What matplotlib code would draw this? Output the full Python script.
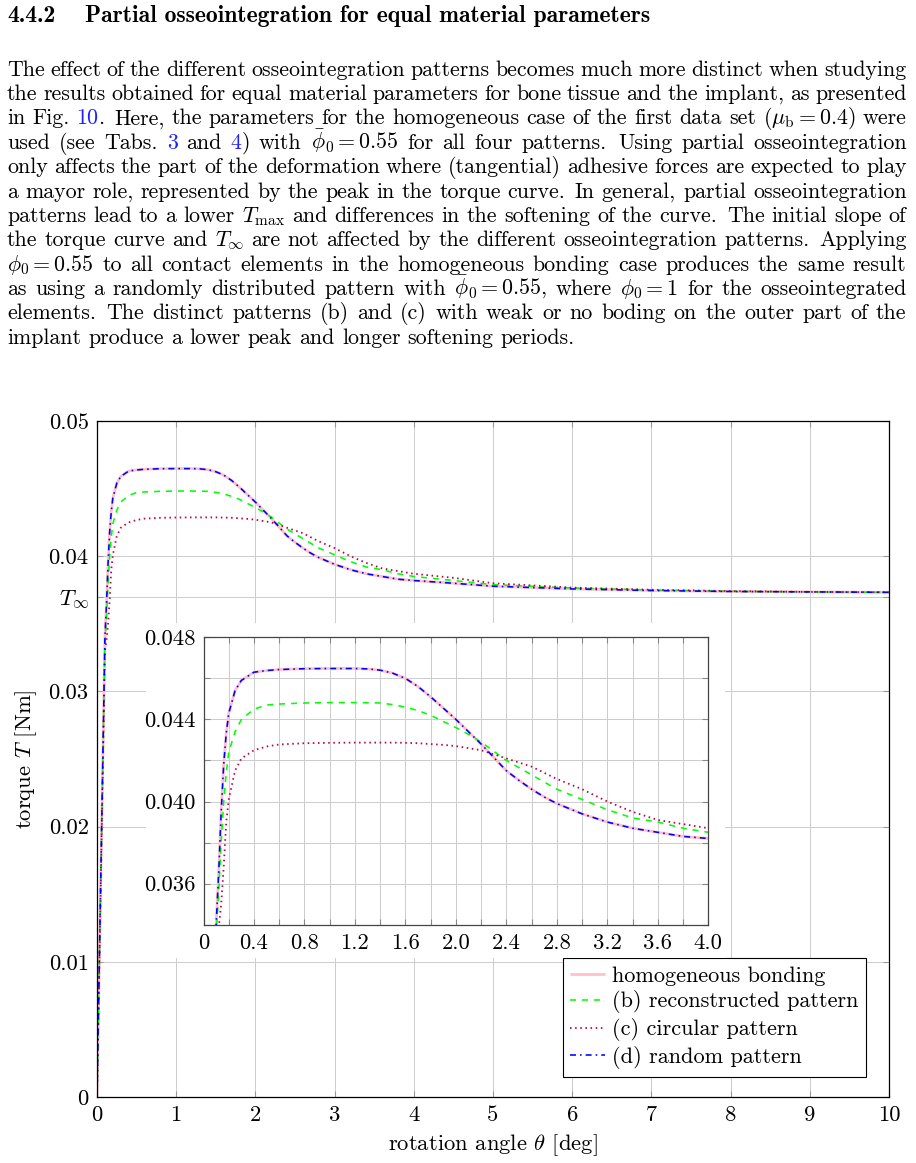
import numpy as np
import matplotlib
matplotlib.use('Agg')
import matplotlib.pyplot as plt
from matplotlib import patches as pat
from matplotlib.ticker import FixedLocator, MultipleLocator

plt.rcParams['font.family'] = 'cmr10'
plt.rcParams['mathtext.fontset'] = 'cm'
plt.rcParams['axes.formatter.use_mathtext'] = True
plt.rcParams['lines.scale_dashes'] = False

FS = 15.8     # body text
FH = 17.0     # heading (cmb10 is narrower than LaTeX's bold extended)
FC = 16.3     # chart text
W, H = 916, 1163

# --- data ---
theta = [0, 0.10, 0.12, 0.14, 0.16, 0.18, 0.20, 0.25, 0.30, 0.40, 0.50, 0.60,
         0.80, 1.00, 1.20, 1.30, 1.40, 1.50, 1.60, 1.70, 1.80, 1.90, 2.00,
         2.10, 2.20, 2.30, 2.40, 2.50, 2.60, 2.70, 2.80,
         3.00, 3.20, 3.40, 3.60, 3.80, 4.00, 4.50, 5.0, 6.0, 7.0, 8.0, 9.0, 10.0]
t_homog = [0, 0.0340, 0.0365, 0.0395, 0.0418, 0.0433, 0.0443, 0.0454, 0.0459,
           0.0463, 0.04638, 0.04643, 0.04647, 0.04648, 0.04648, 0.04646, 0.0464,
           0.04625, 0.0460, 0.0456, 0.0451, 0.04455, 0.0440,
           0.0434, 0.0428, 0.04215, 0.0415, 0.04103, 0.0406, 0.04022, 0.0399,
           0.0394, 0.0390, 0.0387, 0.0385, 0.0383, 0.0382, 0.0380, 0.03778,
           0.03758, 0.03746, 0.03739, 0.03736, 0.03733]
t_recon = [0, 0.0336, 0.0355, 0.0380, 0.0400, 0.0414, 0.0424, 0.0434, 0.0440,
           0.0445, 0.0447, 0.04475, 0.0448, 0.04482, 0.04482, 0.04481, 0.0448,
           0.04472, 0.0446, 0.04443, 0.0442, 0.0439, 0.0436,
           0.04327, 0.0429, 0.04245, 0.0420, 0.04165, 0.0413, 0.04095, 0.0406,
           0.0401, 0.0396, 0.0392, 0.0390, 0.0387, 0.0385, 0.0382, 0.0379,
           0.03765, 0.0375, 0.0374, 0.03736, 0.03733]
t_circ = [0, 0.0330, 0.0338, 0.0350, 0.0368, 0.0390, 0.0401, 0.0415, 0.0421,
          0.0425, 0.04268, 0.04278, 0.04284, 0.04286, 0.04287, 0.04287, 0.04287,
          0.04287, 0.04286, 0.04284, 0.0428, 0.04276, 0.0427,
          0.0426, 0.0425, 0.0423, 0.0421, 0.0419, 0.0417, 0.0414, 0.0411,
          0.0406, 0.0400, 0.0395, 0.0391, 0.0389, 0.0387, 0.0384, 0.0380,
          0.03768, 0.03752, 0.03742, 0.03736, 0.03733]
t_random = [0, 0.0340, 0.0365, 0.0395, 0.0418, 0.0433, 0.0443, 0.0454, 0.0459,
            0.0463, 0.04638, 0.04643, 0.04647, 0.04648, 0.04648, 0.04646, 0.0464,
            0.04625, 0.0460, 0.0456, 0.0451, 0.04455, 0.0440,
            0.0434, 0.0428, 0.04215, 0.0415, 0.04103, 0.0406, 0.04022, 0.0399,
            0.0394, 0.0390, 0.0387, 0.0385, 0.0383, 0.0382, 0.0380, 0.03778,
            0.03758, 0.03746, 0.03739, 0.03736, 0.03733]
t_inf = 0.037
labels = ['homogeneous bonding', '(b) reconstructed pattern',
          '(c) circular pattern', '(d) random pattern']

heading_num = '4.4.2'
heading = 'Partial osseointegration for equal material parameters'
body = [
    'The effect of the different osseointegration patterns becomes much more distinct when studying',
    'the results obtained for equal material parameters for bone tissue and the implant, as presented',
    r'in Fig. [10]. Here, the parameters for the homogeneous case of the first data set ($\mu_\mathrm{b} = 0.4$) were',
    r'used (see Tabs. [3] and [4]) with $\bar{\phi}_0 = 0.55$ for all four patterns. Using partial osseointegration',
    'only affects the part of the deformation where (tangential) adhesive forces are expected to play',
    'a mayor role, represented by the peak in the torque curve. In general, partial osseointegration',
    r'patterns lead to a lower $T_\mathrm{max}$ and differences in the softening of the curve. The initial slope of',
    r'the torque curve and $T_\infty$ are not affected by the different osseointegration patterns. Applying',
    r'$\phi_0 = 0.55$ to all contact elements in the homogeneous bonding case produces the same result',
    r'as using a randomly distributed pattern with $\bar{\phi}_0 = 0.55$, where $\phi_0 = 1$ for the osseointegrated',
    'elements. The distinct patterns (b) and (c) with weak or no boding on the outer part of the',
    'implant produce a lower peak and longer softening periods.',
]

PINK, GREEN, PURPLE, BLUE = '#ffbfcb', '#00ff00', '#bf0040', '#0000ff'
LINK = '#2020ff'


def fx(px):
    return px / W


def fy(py):
    return 1 - py / H


fig = plt.figure(figsize=(W / 100, H / 100), dpi=100)

# ---------------- text block ----------------
fig.text(fx(7), fy(22), heading_num, family='cmb10', fontsize=FH, va='baseline')
fig.text(fx(85), fy(22), heading, family='cmb10', fontsize=FH, va='baseline')


def split_tokens(line):
    toks, cur, inmath = [], '', False
    for ch in line:
        if ch == '$':
            inmath = not inmath
        if ch == ' ' and not inmath:
            if cur:
                toks.append(cur)
            cur = ''
        else:
            cur += ch
    if cur:
        toks.append(cur)
    return toks


def segments(tok):
    out = []
    while '[' in tok:
        i, j = tok.index('['), tok.index(']')
        if i:
            out.append((tok[:i], 'black'))
        out.append((tok[i + 1:j], LINK))
        tok = tok[j + 1:]
    if tok:
        out.append((tok, 'black'))
    return out


# justified paragraph, word by word
renderer = fig.canvas.get_renderer()
x_left, x_right = 7, 906.5
base0, lead = 75.5, 24.4
space = 0.333 * FS * 100 / 72
for k, line in enumerate(body):
    y = fy(base0 + k * lead)
    toks = split_tokens(line)
    words = []
    for tok in toks:
        parts = []
        for s, c in segments(tok):
            t = fig.text(0, y, s, fontsize=FS, color=c, ha='left', va='baseline')
            parts.append((t, t.get_window_extent(renderer).width))
        words.append(parts)
    widths = [sum(w for _, w in p) for p in words]
    extra = [2.3 if (tk.endswith('.') and tk not in ('Fig.', 'Tabs.')) else 0
             for tk in toks[:-1]]
    if k == len(body) - 1:
        gap = space
    else:
        gap = (x_right - x_left - sum(widths) - sum(extra)) / (len(words) - 1)
    xpos = x_left
    for i, parts in enumerate(words):
        xx = xpos
        for t, w in parts:
            t.set_x(fx(xx))
            xx += w
        xpos += widths[i] + gap + (extra[i] if i < len(extra) else 0)

# ---------------- main axes ----------------
ax = fig.add_axes([fx(97), fy(1097), (889 - 97) / W, (1097 - 421) / H])
ax.set_zorder(0)


def draw_curves(a):
    a.plot(theta, t_homog, color=PINK, lw=2.0, solid_capstyle='butt', label=labels[0])
    a.plot(theta, t_recon, color=GREEN, lw=1.15, dashes=(4.3, 4.3), label=labels[1])
    a.plot(theta, t_circ, color=PURPLE, lw=1.3, dashes=(1.1, 2.6), label=labels[2])
    a.plot(theta, t_random, color=BLUE, lw=1.15, dashes=(4.3, 2.9, 1.15, 2.9), label=labels[3])


draw_curves(ax)
ax.set_xlim(0, 10)
ax.set_ylim(0, 0.05)
ax.set_xticks(range(11))
ax.set_xticklabels([str(i) for i in range(11)])
ax.set_yticks([0, 0.01, 0.02, 0.03, t_inf, 0.04, 0.05])
ax.set_yticklabels(['0', '0.01', '0.02', '0.03', r'$T_\infty$', '0.04', '0.05'])
ax.grid(True, color='#cccccc', lw=0.7)
ax.set_axisbelow(True)
ax.tick_params(direction='in', length=4, color='#999999', top=True, right=True,
               labelsize=FC, pad=6, width=0.8)
for sp in ax.spines.values():
    sp.set_linewidth(0.9)
    sp.set_color('black')
ax.set_xlabel(r'rotation angle $\theta$ [deg]', fontsize=FC)
ax.xaxis.set_label_coords(0.5, -(1150 - 1097) / 676)
ax.xaxis.label.set_verticalalignment('baseline')
ax.set_ylabel(r'torque $T$ [Nm]', fontsize=FC)
ax.yaxis.set_label_coords((39 - 97) / 792, 0.5)

leg = ax.legend(loc='lower right', bbox_to_anchor=((865.7 - 97) / 792, (1097 - 1077) / 676),
                borderaxespad=0, fancybox=False, edgecolor='black', framealpha=1,
                fontsize=16.0, handlelength=1.55, handletextpad=0.3, labelspacing=0.22,
                borderpad=0.35)
leg.get_frame().set_linewidth(0.8)

# white backing under the inset
box = pat.Rectangle((fx(145.7), fy(958)), (725 - 145.7) / W, (958 - 622.7) / H,
                    transform=fig.transFigure, facecolor='white', edgecolor='none',
                    zorder=1)
fig.add_artist(box)

# ---------------- inset ----------------
ai = fig.add_axes([fx(203.5), fy(924.7), (708.3 - 203.5) / W, (924.7 - 637.3) / H])
ai.set_zorder(2)
ai.set_facecolor('white')
draw_curves(ai)
ai.set_xlim(0, 4)
ai.set_ylim(0.034, 0.048)
xt = [0, 0.4, 0.8, 1.2, 1.6, 2.0, 2.4, 2.8, 3.2, 3.6, 4.0]
ai.xaxis.set_major_locator(FixedLocator(xt))
ai.set_xticklabels(['0'] + ['%.1f' % v for v in xt[1:]])
ai.xaxis.set_minor_locator(MultipleLocator(0.2))
yt = [0.036, 0.040, 0.044, 0.048]
ai.yaxis.set_major_locator(FixedLocator(yt))
ai.set_yticklabels(['%.3f' % v for v in yt])
ai.yaxis.set_minor_locator(MultipleLocator(0.002))
ai.grid(True, which='both', color='#cccccc', lw=0.7)
ai.set_axisbelow(True)
ai.tick_params(which='both', direction='in', length=4, color='#888888', top=True,
               right=True, labelsize=FC, pad=6, width=0.8)
for sp in ai.spines.values():
    sp.set_linewidth(0.9)
    sp.set_color('#444444')

fig.savefig('out.png', dpi=100)
